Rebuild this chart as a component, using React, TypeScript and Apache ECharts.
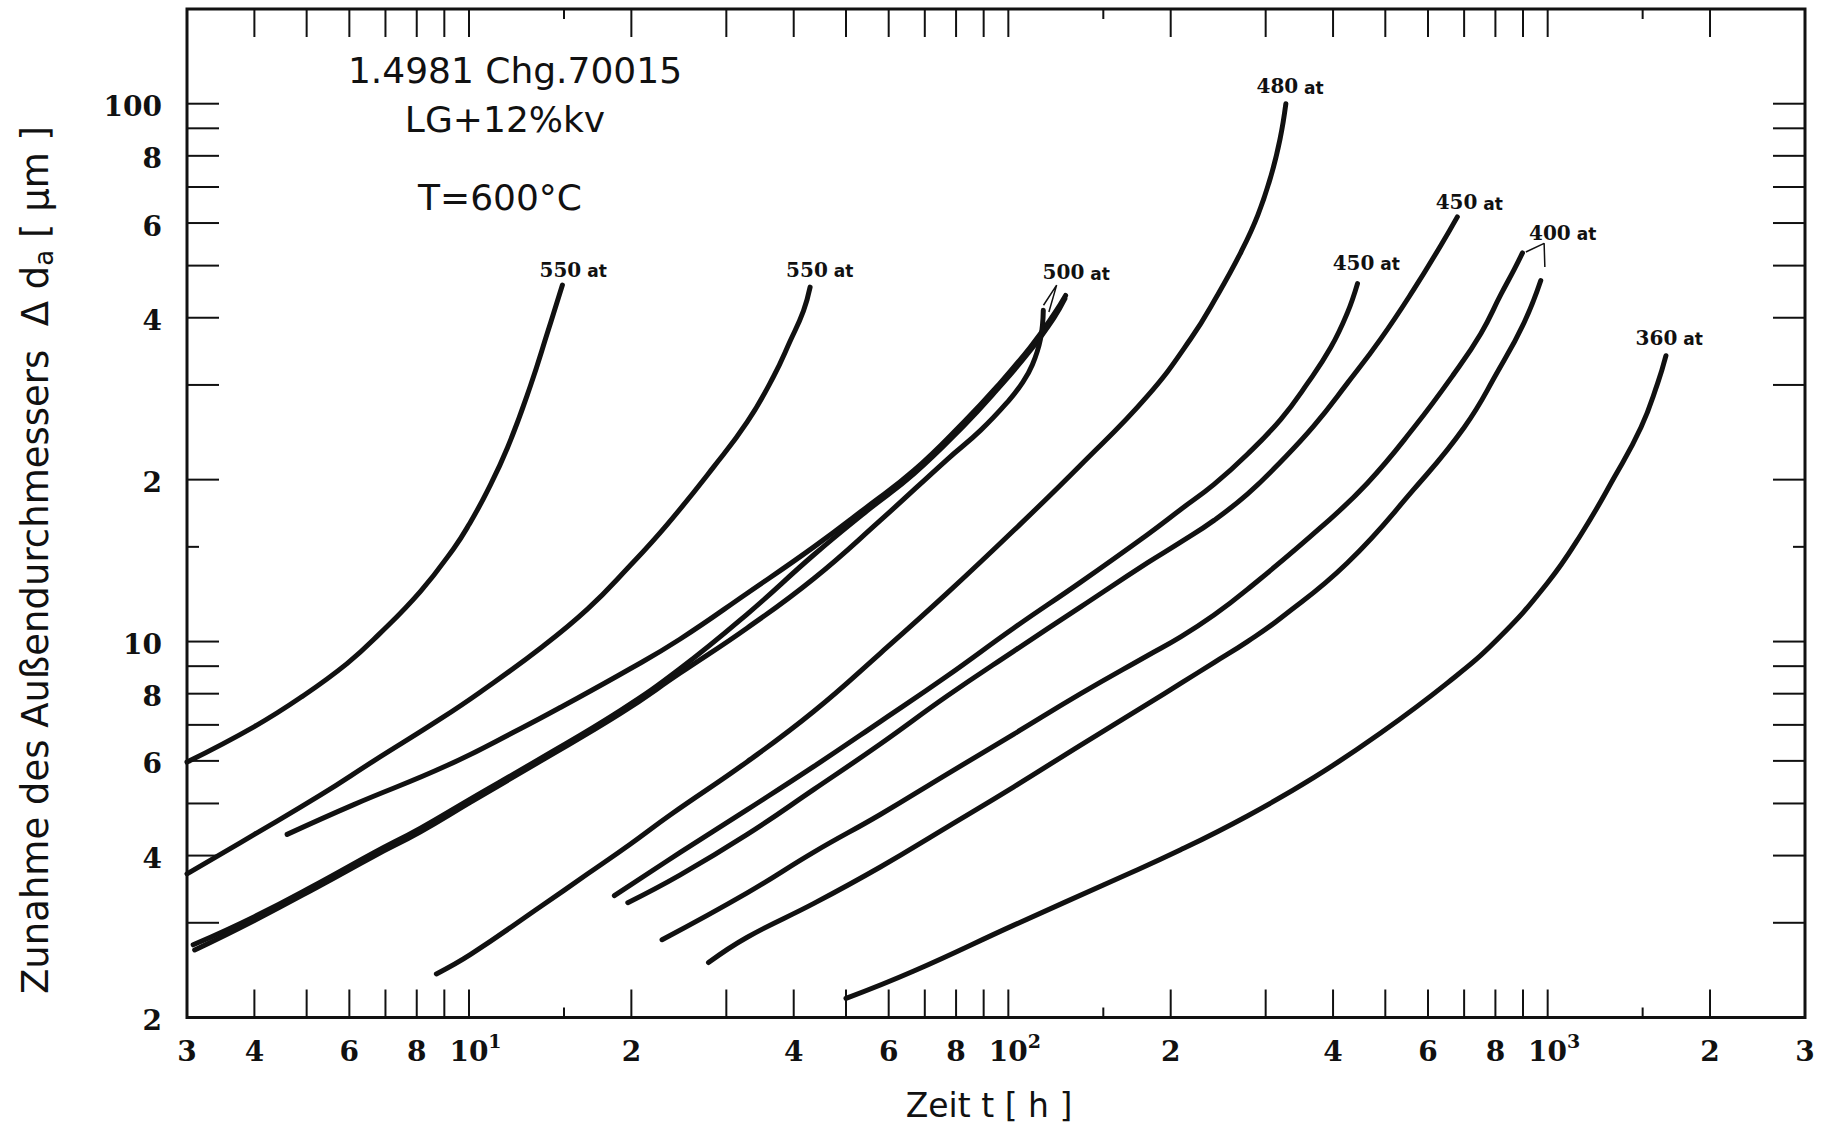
import React, { useEffect, useRef } from 'react';
import * as echarts from 'echarts';

// ---- axis ranges ----
const X_MIN = 3;
const X_MAX = 3000;
const Y_MIN = 2;
const Y_MAX = 150;

// ---- curves [Zeit t (h), Δda (µm)] ----
const curve550a = [[3, 5.97], [4, 6.95], [4.9, 7.9], [5.94, 9.1], [6.8, 10.3], [8.13, 12.4], [9.37, 14.9], [10, 16.5], [10.8, 19.0], [11.8, 23.0], [13, 29.9], [14, 37.7], [14.9, 46.0]];
const curve550b = [[3, 3.7], [4, 4.38], [5.3, 5.18], [6.66, 6.0], [8.85, 7.18], [10.5, 8.06], [13.6, 9.74], [16.6, 11.5], [19.7, 13.7], [23.3, 16.5], [28.4, 21.1], [32.8, 25.6], [36.7, 31.1], [39.4, 36.2], [41.7, 41.2], [42.9, 45.6]];
const curve500a = [[4.6, 4.38], [6.1, 4.97], [9.1, 5.88], [12.5, 6.9], [14.8, 7.55], [19.9, 8.9], [24.6, 10.1], [32.8, 12.3], [43.6, 15.0], [54.7, 17.8], [66.8, 20.8], [82.7, 25.6], [95.3, 29.8], [109.9, 35.3], [121.5, 40.6], [127.7, 44.0]];
const curve500b = [[3.08, 2.73], [4, 3.08], [5.3, 3.57], [6.66, 4.05], [8.13, 4.5], [10.07, 5.1], [13.4, 6.02], [19.1, 7.45], [24.6, 8.9], [32.8, 11.25], [43.6, 14.5], [54.7, 17.5], [66.8, 20.5], [82.7, 25.2], [95.3, 29.4], [109.9, 34.8], [121.5, 40.0], [127.3, 43.4]];
const curve500c = [[3.1, 2.67], [4, 3.03], [5.3, 3.52], [6.66, 3.99], [8.13, 4.43], [10.07, 5.03], [13.4, 5.95], [19.1, 7.35], [24.6, 8.73], [32.8, 10.6], [43.6, 13.1], [57.9, 16.8], [77, 21.8], [88.8, 24.7], [100, 28.0], [106, 30.2], [110.8, 32.7], [114.7, 36.5], [116.1, 41.3]];
const curve480 = [[8.7, 2.41], [10.07, 2.62], [13.6, 3.22], [16.6, 3.7], [19.9, 4.2], [23.6, 4.76], [32.8, 5.98], [43.6, 7.42], [57.9, 9.51], [77, 12.3], [102.4, 16.1], [136.2, 21.3], [181, 28.6], [218, 36.6], [244, 44.0], [270, 53], [290, 62], [307, 73.5], [319, 86], [327, 100]];
const curve450a = [[18.6, 3.37], [24.6, 4.05], [32.8, 4.87], [43.6, 5.86], [57.9, 7.1], [77, 8.63], [102.4, 10.6], [136.2, 12.9], [181, 15.8], [208.7, 17.6], [240.6, 19.6], [277.5, 22.3], [320, 25.9], [358.6, 30.2], [396, 35.2], [425, 40.8], [444, 46.3]];
const curve450b = [[19.7, 3.27], [24.6, 3.68], [32.8, 4.38], [43.6, 5.31], [57.9, 6.45], [77, 7.92], [102.4, 9.6], [136.2, 11.6], [181, 14.0], [208.7, 15.3], [240.6, 16.8], [277.5, 18.8], [320, 21.6], [368.8, 25.2], [425, 30.2], [490, 36.5], [565, 45.2], [633.6, 54.5], [680, 61.6]];
const curve400a = [[22.8, 2.79], [32.8, 3.41], [43.6, 4.06], [57.9, 4.77], [77, 5.67], [102.4, 6.73], [136.2, 8.0], [181, 9.41], [208.7, 10.2], [240.6, 11.2], [277.5, 12.5], [379.5, 16.3], [463, 19.7], [565, 25.0], [671, 31.5], [752, 37.4], [819, 44.2], [867, 49.2], [898, 52.8]];
const curve400b = [[27.8, 2.53], [32.8, 2.82], [43.6, 3.26], [57.9, 3.81], [77, 4.52], [102.4, 5.37], [136.2, 6.42], [181, 7.65], [208.7, 8.36], [240.6, 9.14], [277.5, 10.0], [320, 11.06], [425, 14.0], [565, 19.2], [700, 25.0], [807, 31.7], [904.5, 39.2], [971, 46.9]];
const curve360 = [[50, 2.17], [66.8, 2.44], [102.4, 2.97], [157, 3.6], [208.7, 4.1], [277.5, 4.74], [368.8, 5.59], [490, 6.76], [652, 8.38], [807, 10.1], [999, 12.85], [1152, 15.8], [1329, 20.2], [1489, 25.0], [1599, 30.2], [1657, 34.0]];

const curveNames = ['550 at', '550 at', '500 at', '500 at', '500 at', '480 at', '450 at', '450 at', '400 at', '400 at', '360 at'];
const curveList = [curve550a, curve550b, curve500a, curve500b, curve500c, curve480, curve450a, curve450b, curve400a, curve400b, curve360];

// ---- curve labels ----
const curveLabelTexts = ['550', '550', '500', '480', '450', '450', '400', '360'];
const curveLabelX = [15.6, 44.7, 133.6, 333, 461, 715.5, 1066, 1680];
const curveLabelY = [49.5, 49.5, 49.0, 108.6, 51.0, 66.1, 58.1, 37.0];

// ---- leader lines ----
const leader500 = [[116.2, 42.2], [122.9, 46.0], [118.9, 41.0]];
const leader400 = [[911, 53.0], [985, 55.0], [988, 49.7]];

// ---- ticks and tick labels ----
const xMajorTicks = [4, 5, 6, 7, 8, 9, 10, 20, 30, 40, 50, 60, 70, 80, 90, 100, 200, 300, 400, 500, 600, 700, 800, 900, 1000, 2000];
const xShortTicks = [15, 150, 1500];
const yMajorTicks = [3, 4, 5, 6, 7, 8, 9, 10, 20, 30, 40, 50, 60, 70, 80, 90, 100];
const yShortTicks = [15];
const xLabelValues = [3, 4, 6, 8, 10, 20, 40, 60, 80, 100, 200, 400, 600, 800, 1000, 2000, 3000];
const xLabelTexts = ['3', '4', '6', '8', '10^1', '2', '4', '6', '8', '10^2', '2', '4', '6', '8', '10^3', '2', '3'];
const yLabelValues = [2, 4, 6, 8, 10, 20, 40, 60, 80, 100];
const yLabelTexts = ['2', '4', '6', '8', '10', '2', '4', '6', '8', '100'];

const INK = '#111';
const SERIF = '"DejaVu Serif", "Liberation Serif", serif';
const SANS = '"DejaVu Sans", "Liberation Sans", sans-serif';

const tickRich = {
  sp: { width: 13, fontSize: 18, fill: INK, color: INK },
  b: { fontFamily: SERIF, fontWeight: 'bold', fontSize: 28, lineHeight: 34, verticalAlign: 'bottom', fill: INK, color: INK },
  s: { fontFamily: SERIF, fontWeight: 'bold', fontSize: 19, lineHeight: 22, verticalAlign: 'top', fill: INK, color: INK },
};

function richTick(t: string) {
  if (t.indexOf('^') >= 0) {
    const parts = t.split('^');
    return `{sp| }{b|${parts[0]}}{s|${parts[1]}}`;
  }
  return `{b|${t}}`;
}

function xTickSeries(values: number[], len: number) {
  return {
    type: 'custom',
    coordinateSystem: 'cartesian2d',
    silent: true,
    clip: false,
    z: 4,
    data: values.map((v) => [v, Y_MIN]),
    renderItem: (params: any, api: any) => {
      const cs = params.coordSys;
      const x = api.coord([api.value(0), Y_MIN])[0];
      const b = cs.y + cs.height;
      return {
        type: 'group',
        children: [
          { type: 'line', shape: { x1: x, y1: b, x2: x, y2: b - len }, style: { stroke: INK, lineWidth: 2 } },
          { type: 'line', shape: { x1: x, y1: cs.y, x2: x, y2: cs.y + len }, style: { stroke: INK, lineWidth: 2 } },
        ],
      };
    },
  };
}

function yTickSeries(values: number[], len: number) {
  return {
    type: 'custom',
    coordinateSystem: 'cartesian2d',
    silent: true,
    clip: false,
    z: 4,
    data: values.map((v) => [X_MIN, v]),
    renderItem: (params: any, api: any) => {
      const cs = params.coordSys;
      const y = api.coord([X_MIN, api.value(1)])[1];
      const r = cs.x + cs.width;
      return {
        type: 'group',
        children: [
          { type: 'line', shape: { x1: cs.x, y1: y, x2: cs.x + len, y2: y }, style: { stroke: INK, lineWidth: 2 } },
          { type: 'line', shape: { x1: r, y1: y, x2: r - len, y2: y }, style: { stroke: INK, lineWidth: 2 } },
        ],
      };
    },
  };
}

const xLabelSeries = {
  type: 'custom',
  coordinateSystem: 'cartesian2d',
  silent: true,
  clip: false,
  z: 5,
  data: xLabelValues.map((v) => [v, Y_MIN]),
  renderItem: (params: any, api: any) => {
    const cs = params.coordSys;
    const x = api.coord([api.value(0), Y_MIN])[0];
    return {
      type: 'text',
      x,
      y: cs.y + cs.height + 14,
      style: {
        text: richTick(xLabelTexts[params.dataIndex]),
        rich: tickRich,
        fill: INK,
        align: 'center',
        textAlign: 'center',
        verticalAlign: 'top',
        textVerticalAlign: 'top',
      },
    };
  },
};

const yLabelSeries = {
  type: 'custom',
  coordinateSystem: 'cartesian2d',
  silent: true,
  clip: false,
  z: 5,
  data: yLabelValues.map((v) => [X_MIN, v]),
  renderItem: (params: any, api: any) => {
    const cs = params.coordSys;
    const y = api.coord([X_MIN, api.value(1)])[1];
    return {
      type: 'text',
      x: cs.x - 25,
      y,
      style: {
        text: richTick(yLabelTexts[params.dataIndex]),
        rich: tickRich,
        fill: INK,
        align: 'right',
        textAlign: 'right',
        verticalAlign: 'middle',
        textVerticalAlign: 'middle',
      },
    };
  },
};

const curveLabelSeries = {
  type: 'custom',
  coordinateSystem: 'cartesian2d',
  silent: true,
  clip: false,
  z: 6,
  data: curveLabelX.map((x, i) => [x, curveLabelY[i]]),
  renderItem: (params: any, api: any) => {
    const p = api.coord([api.value(0), api.value(1)]);
    return {
      type: 'text',
      x: p[0],
      y: p[1],
      style: {
        text: `{n|${curveLabelTexts[params.dataIndex]}}{a| at}`,
        rich: {
          n: { fontFamily: SERIF, fontWeight: 'bold', fontSize: 20, lineHeight: 24, verticalAlign: 'bottom', fill: INK, color: INK },
          a: { fontFamily: SANS, fontWeight: 'bold', fontSize: 17, lineHeight: 24, verticalAlign: 'bottom', fill: INK, color: INK },
        },
        fill: INK,
        align: 'center',
        textAlign: 'center',
        verticalAlign: 'middle',
        textVerticalAlign: 'middle',
      },
    };
  },
};

function leaderSeries(d: number[][]) {
  return {
    type: 'line',
    data: d,
    symbol: 'none',
    showSymbol: false,
    silent: true,
    clip: false,
    z: 5,
    lineStyle: { color: INK, width: 1.5 },
  };
}

const lineSeries = curveList.map((d, i) => ({
  type: 'line',
  name: curveNames[i],
  data: d,
  symbol: 'none',
  showSymbol: false,
  smooth: 0.45,
  silent: true,
  z: 3,
  lineStyle: { color: INK, width: 5, cap: 'round', join: 'round' },
}));

function textEl(text: string, x: number, y: number, size: number) {
  return {
    type: 'text',
    x,
    y,
    silent: true,
    style: {
      text,
      font: `${size}px ${SANS}`,
      fill: INK,
      align: 'center',
      textAlign: 'center',
      verticalAlign: 'middle',
      textVerticalAlign: 'middle',
    },
  };
}

const option: any = {
  animation: false,
  backgroundColor: '#ffffff',
  grid: {
    left: 187,
    right: 29,
    top: 9,
    bottom: 108.5,
    show: true,
    borderColor: INK,
    borderWidth: 3,
    backgroundColor: 'transparent',
  },
  xAxis: {
    type: 'log',
    logBase: 10,
    min: X_MIN,
    max: X_MAX,
    axisLine: { show: false },
    axisTick: { show: false },
    axisLabel: { show: false },
    splitLine: { show: false },
    minorTick: { show: false },
    minorSplitLine: { show: false },
  },
  yAxis: {
    type: 'log',
    logBase: 10,
    min: Y_MIN,
    max: Y_MAX,
    axisLine: { show: false },
    axisTick: { show: false },
    axisLabel: { show: false },
    splitLine: { show: false },
    minorTick: { show: false },
    minorSplitLine: { show: false },
  },
  series: [
    ...lineSeries,
    leaderSeries(leader500),
    leaderSeries(leader400),
    xTickSeries(xMajorTicks, 28),
    xTickSeries(xShortTicks, 10),
    yTickSeries(yMajorTicks, 32),
    yTickSeries(yShortTicks, 12),
    xLabelSeries,
    yLabelSeries,
    curveLabelSeries,
  ],
  graphic: [
    textEl('1.4981 Chg.70015', 515, 70, 36),
    textEl('LG+12%kv', 505, 119, 36),
    textEl('T=600°C', 500, 197, 36),
    textEl('Zeit t [ h ]', 989, 1105, 33),
    {
      type: 'text',
      x: 35,
      y: 560,
      rotation: Math.PI / 2,
      silent: true,
      style: {
        text: '{t|Zunahme des Außendurchmessers  Δ d}{s|a}{t| [ μm ]}',
        rich: {
          t: { fontFamily: SANS, fontSize: 37, lineHeight: 44, verticalAlign: 'middle', fill: INK, color: INK },
          s: { fontFamily: SANS, fontSize: 26, lineHeight: 30, verticalAlign: 'bottom', fill: INK, color: INK },
        },
        fill: INK,
        align: 'center',
        textAlign: 'center',
        verticalAlign: 'middle',
        textVerticalAlign: 'middle',
      },
    },
  ],
};

export default function App() {
  const ref = useRef<HTMLDivElement>(null);
  useEffect(() => {
    if (!ref.current) return;
    const chart = echarts.init(ref.current, null, { renderer: 'svg' });
    chart.setOption(option);
    return () => chart.dispose();
  }, []);
  return (
    <div
      ref={ref}
      style={{ position: 'fixed', left: 0, top: 0, width: '1834px', height: '1126px', background: '#fff' }}
    />
  );
}
